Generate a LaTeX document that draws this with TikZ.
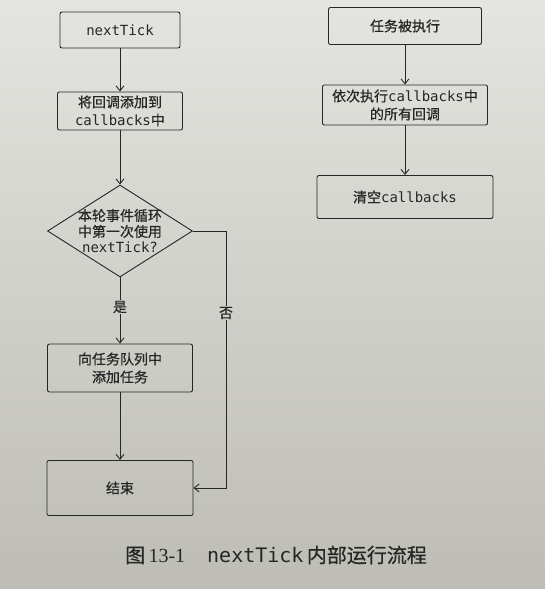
\documentclass[tikz,border=0pt]{standalone}
\usepackage{fontspec}
\setmainfont{Noto Sans CJK SC}[FakeBold=0.6]
\setmonofont{DejaVu Sans Mono}
\newfontfamily\capserif{Liberation Serif}
\usetikzlibrary{shapes.geometric,arrows.meta}
\definecolor{ink}{HTML}{262626}
\definecolor{papertop}{HTML}{E4E4E0}
\definecolor{paperbot}{HTML}{BDBDB5}
\tikzset{
  box/.style={draw=ink, line width=0.9pt, rounded corners=2pt, align=center,
    text=ink, inner sep=2pt, font=\fontsize{14}{18}\selectfont},
  dia/.style={draw=ink, line width=0.9pt, shape=diamond, inner sep=0pt},
  lbl/.style={text=ink, align=center, inner sep=1pt, font=\fontsize{14}{18}\selectfont},
  flow/.style={draw=ink, line width=0.9pt, -{Straight Barb[length=5pt,width=8pt]}},
  seg/.style={draw=ink, line width=0.9pt}
}
\begin{document}
\begin{tikzpicture}[x=1pt,y=-1pt]
\useasboundingbox (0,0) rectangle (545,589);
\shade[top color=papertop, bottom color=paperbot] (0,0) rectangle (545,589);
% left column
\node[box, minimum width=120pt, minimum height=36pt] (n1) at (120,30) {\texttt{nextTick}};
\node[box, minimum width=125pt, minimum height=38pt] (n2) at (120,111) {将回调添加到\\\texttt{callbacks}中};
\node[dia, minimum width=145pt, minimum height=92pt] (d) at (120,231) {};
\node[lbl] (dt) at (120,231) {本轮事件循环\\[-2pt]中第一次使用\\[-2pt]\texttt{nextTick?}};
\node[lbl] (yes) at (120,307) {是};
\node[box, minimum width=145pt, minimum height=48pt] (n3) at (120,368) {向任务队列中\\添加任务};
\node[box, minimum width=146pt, minimum height=55pt] (e) at (120,488) {结束};
\coordinate (c1) at (226,231);
\coordinate (c2) at (226,488);
\node[lbl] (no) at (226,313) {否};
\draw[flow] (n1) -- (n2);
\draw[flow] (n2) -- (d.north);
\draw[seg] (d.south) -- (yes.north);
\draw[flow] (yes.south) -- (n3.north);
\draw[flow] (n3) -- (e);
\draw[seg] (d.east) -- (c1) -- (no.north);
\draw[flow] (no.south) -- (c2) -- (e.east);
% right column
\node[box, minimum width=153pt, minimum height=37pt] (t1) at (405,26) {任务被执行};
\node[box, minimum width=165pt, minimum height=40pt] (t2) at (405,105) {依次执行\texttt{callbacks}中\\的所有回调};
\node[box, minimum width=176pt, minimum height=43pt] (t3) at (405,197) {清空\texttt{callbacks}};
\draw[flow] (t1) -- (t2);
\draw[flow] (t2) -- (t3);
% caption
\node[text=ink, anchor=west, inner sep=0pt] (cap) at (125,555)
  {\fontsize{20}{24}\selectfont 图\,{\capserif 13-1}\hspace{1.1em}\texttt{nextTick}\,内部运行流程};
\end{tikzpicture}
\end{document}
